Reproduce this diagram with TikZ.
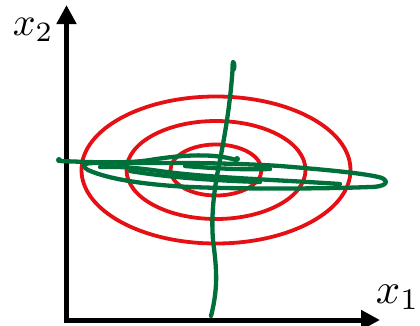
\documentclass[tikz,border=0pt]{standalone}
\usetikzlibrary{arrows.meta}
\definecolor{ered}{RGB}{228,16,20}
\definecolor{egreen}{RGB}{0,112,58}
\tikzset{
  axis/.style={line width=5pt,-{Triangle[length=19pt,width=19pt]}},
  contour/.style={draw=ered,line width=3.8pt},
  scribble/.style={draw=egreen,line width=4.3pt,line cap=round,line join=round},
  axlabel/.style={inner sep=0pt,scale=4}
}
\begin{document}
\begin{tikzpicture}[x=1pt,y=-1pt]
\useasboundingbox (0,0) rectangle (420,325);
% axes
\coordinate (O) at (66.5,320);
\coordinate (Ox) at (64,320);
\coordinate (Ytip) at (66.5,5);
\coordinate (Xtip) at (380,320);
\draw[axis] (O) -- (Ytip);
\draw[axis] (Ox) -- (Xtip);
\node[axlabel,anchor=base west] (lx2) at (12,35) {$x_2$};
\node[axlabel,scale=1.07,anchor=base west] (lx1) at (375,303) {$x_1$};
% contours
\coordinate (C) at (216,170);
\draw[contour] (C) ellipse [x radius=134.5, y radius=73.5];
\draw[contour] (C) ellipse [x radius=89.5, y radius=49];
\draw[contour] (C) ellipse [x radius=45.5, y radius=25.5];
% vertical green stroke
\draw[scribble] (233,62) .. controls (231,100) and (225,135) .. (219,165)
  .. controls (214,190) and (211,215) .. (213,240)
  .. controls (216,265) and (219,285) .. (211,316);
\fill[egreen] (233.5,66) ellipse [x radius=3, y radius=6];
% horizontal scribble
\draw[scribble] (59,161) .. controls (90,162) and (125,164) .. (150,160)
  .. controls (175,156) and (210,152) .. (236,160);
\fill[egreen] (59,160) circle (3);
\fill[egreen] (237,159) circle (3);
\draw[scribble] (96,163) .. controls (150,163) and (220,162) .. (280,166)
  .. controls (330,170) and (370,174) .. (382,178)
  .. controls (390,182) and (385,187) .. (370,187)
  .. controls (320,189) and (240,189) .. (190,187)
  .. controls (150,185) and (110,180) .. (88,170)
  .. controls (80,165) and (84,163) .. (96,163);
\draw[scribble] (100,167) .. controls (130,166) and (150,170) .. (175,173)
  .. controls (220,178) and (280,180) .. (340,184);
\draw[scribble] (130,171) .. controls (160,176) and (200,180) .. (260,182);
\draw[scribble] (185,166) .. controls (210,168) and (240,170) .. (270,169);
\end{tikzpicture}
\end{document}
